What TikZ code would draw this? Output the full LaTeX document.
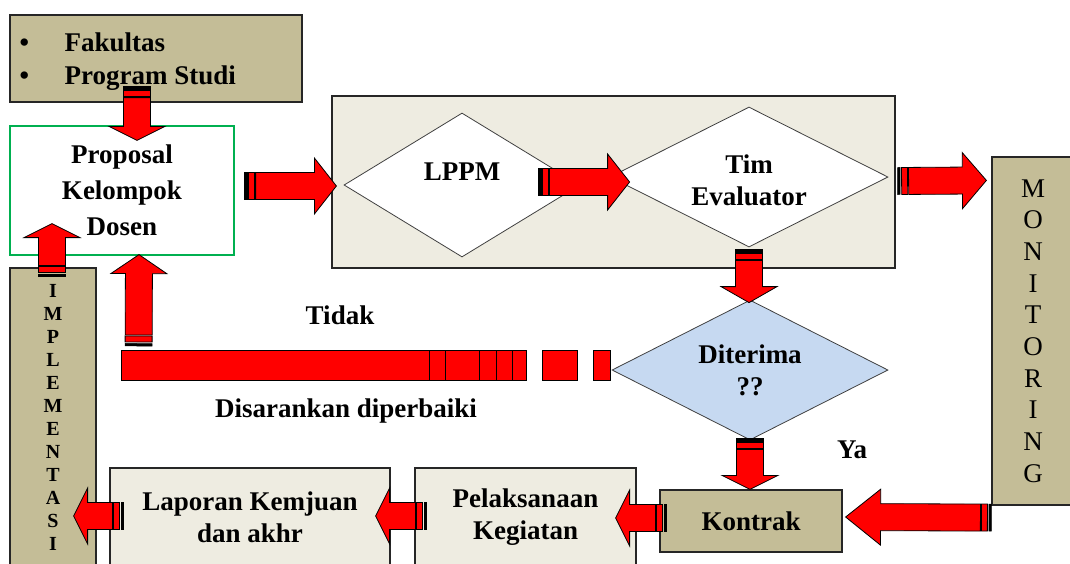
\documentclass[tikz,border=0pt]{standalone}
\usepackage{fontspec}
\setmainfont{Liberation Serif}
\usepackage{tikz}
\usetikzlibrary{calc,shapes.geometric}

\definecolor{tan}{HTML}{C4BD97}
\definecolor{paper}{HTML}{EEECE1}
\definecolor{sky}{HTML}{C6D9F1}
\definecolor{leaf}{HTML}{00B050}

\newcommand{\lbfont}{\fontsize{27}{32}\selectfont\bfseries}

% striped block arrow from #2 to #3, head length #1 (pt)
\newcommand{\blockarrow}[3][20]{%
  \path let \p1=(#2), \p2=(#3), \n1={atan2(\y2-\y1,\x2-\x1)}, \n2={veclen(\x2-\x1,\y2-\y1)} in
    \pgfextra{\xdef\baX{\x1}\xdef\baY{\y1}\xdef\baAng{\n1}\xdef\baLen{\n2}};
  \begin{scope}[shift={(\baX,\baY)}, rotate=\baAng]
    \filldraw[blackstripe] (0pt,-13.5pt) rectangle (2.5pt,13.5pt);
    \filldraw[redbody] (4pt,-13.5pt) rectangle (10pt,13.5pt);
    \filldraw[redbody] (11pt,-13.5pt) -- (\baLen-#1pt,-13.5pt) -- (\baLen-#1pt,-28pt)
      -- (\baLen,0pt) -- (\baLen-#1pt,28pt) -- (\baLen-#1pt,13.5pt) -- (11pt,13.5pt) -- cycle;
  \end{scope}}

\begin{document}
\begin{tikzpicture}[x=1pt,y=-1pt,
  tanbox/.style={draw=black!85, line width=1.2pt, fill=tan, inner sep=0pt, font=\lbfont, align=center},
  lightbox/.style={draw=black!85, line width=1.2pt, fill=paper, inner sep=0pt, font=\lbfont, align=center},
  decision/.style={diamond, aspect=2, draw=black!75, line width=0.8pt, inner sep=0pt, font=\lbfont, align=center},
  redbody/.style={fill=red, draw=black, line width=0.8pt},
  blackstripe/.style={fill=black, draw=black, line width=0.5pt},
  lbl/.style={font=\lbfont}]
\clip (0,0) rectangle (1070,563);
\fill[white] (0,0) rectangle (1070,563);

% boxes
\node (fak) [tanbox, minimum width=292pt, minimum height=87pt] at (156,58.5) {};
\node (faktxt) [lbl, anchor=west, align=left, inner sep=0pt, font=\fontsize{27}{33}\selectfont\bfseries]
  at ([xshift=10pt,yshift=-3pt]fak.west) {\makebox[45pt][l]{\textbullet}Fakultas\\\makebox[45pt][l]{\textbullet}Program Studi};
\node (prop) [draw=leaf, line width=1.2pt, fill=white, minimum width=224pt, minimum height=129pt,
  font=\fontsize{27}{36}\selectfont\bfseries, align=center] at (122,190.5) {Proposal\\Kelompok\\Dosen};
\node (cont) [lightbox, minimum width=563pt, minimum height=172pt] at (613.5,182) {};
\node (lppm) [decision, fill=white, minimum width=236pt, minimum height=144pt] at (462,185) {};
\node (lppmtxt) [lbl] at ([yshift=13pt]lppm.center) {LPPM};
\node (tim) [decision, fill=white, minimum width=278pt, minimum height=140pt] at (749,177) {};
\node (timtxt) [lbl, align=center] at ([yshift=-3pt]tim.center) {Tim\\Evaluator};
\node (mon) [tanbox, minimum width=82pt, minimum height=348pt, font=\fontsize{27}{31.7}\selectfont]
  at (1033,331) {M\\O\\N\\I\\T\\O\\R\\I\\N\\G};
\node (dit) [decision, fill=sky, minimum width=276pt, minimum height=140pt] at (750,370) {Diterima\\??};
\node (kon) [tanbox, minimum width=182pt, minimum height=62pt] at (751,521) {Kontrak};
\node (pel) [lightbox, minimum width=221pt, minimum height=98pt] at (525.5,517) {Pelaksanaan\\Kegiatan};
\node (lap) [lightbox, minimum width=280pt, minimum height=98pt] at (250,517) {Laporan Kemjuan\\dan akhr};
\node (imp) [tanbox, minimum width=86pt, minimum height=298pt, font=\fontsize{20}{23}\selectfont\bfseries]
  at (53,417) {I\\M\\P\\L\\E\\M\\E\\N\\T\\A\\S\\I};

% labels
\node (tidak) [lbl] at (340,315) {Tidak};
\node (saran) [lbl] at (346,411) {Disarankan diperbaiki};
\node (ya) [lbl] at (852,450) {Ya};

% arrows
\blockarrow[14]{[xshift=-19pt,yshift=16pt]fak.south}{[xshift=15pt,yshift=-15pt]prop.north}
\blockarrow[22]{[xshift=10pt,yshift=4.5pt]prop.east}{[xshift=5pt,yshift=-4pt]cont.west}
\blockarrow[22]{[xshift=-42pt,yshift=3pt]lppm.east}{[xshift=20pt,yshift=-5pt]tim.west}
\blockarrow[24]{[xshift=2pt,yshift=1pt]cont.east}{[xshift=-5pt,yshift=-24pt]mon.north west}
\blockarrow[16]{[yshift=-2pt]tim.south}{[xshift=-1pt,yshift=-3pt]dit.north}
\blockarrow[14]{[yshift=2pt]dit.south}{[xshift=-1pt]kon.north}
\blockarrow[35]{[yshift=-12pt]mon.south west}{[xshift=3pt,yshift=4pt]kon.east}
\blockarrow[14]{[xshift=7pt,yshift=3pt]kon.west}{[xshift=-21pt,yshift=-1pt]pel.east}
\blockarrow[14]{[xshift=12pt,yshift=1pt]pel.west}{[xshift=-15pt,yshift=1pt]lap.east}
\blockarrow[14]{[xshift=14pt,yshift=1pt]lap.west}{[xshift=-23pt,yshift=-99pt]imp.east}
\blockarrow[14]{[xshift=-1pt,yshift=-9pt]imp.north}{[xshift=-70pt,yshift=32pt]prop.south}

% return path (Tidak)
\begin{scope}[shift={(dit.west)}]
\filldraw[redbody] (-490,-20) rectangle (-85,10);
\foreach \d in {-182,-166,-132,-115,-99}
  \draw[black, line width=0.8pt] (\d,-20) -- (\d,10);
\filldraw[redbody] (-69,-20) rectangle (-34,10);
\filldraw[redbody] (-18,-20) rectangle (-1,10);
\end{scope}
\blockarrow[19]{[xshift=-473pt,yshift=24pt]dit.west}{[xshift=17pt,yshift=1pt]prop.south}
\end{tikzpicture}
\end{document}
